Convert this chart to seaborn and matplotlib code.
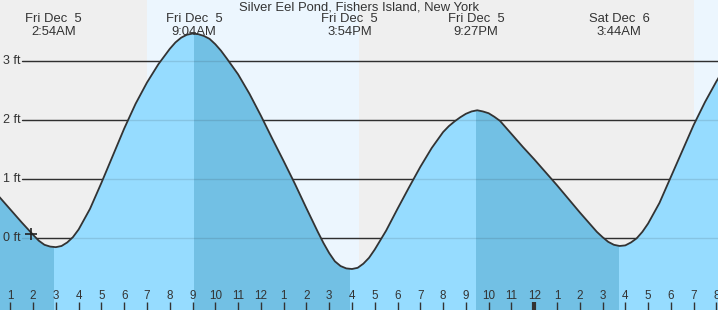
import numpy as np
import matplotlib
matplotlib.use('Agg')
import matplotlib.pyplot as plt
from matplotlib.patches import Rectangle
import seaborn as sns

# ---- data (hours after midnight Fri Dec 5, feet) ----
hours = [0.5, 1.0, 1.5, 2.0, 2.25, 2.5, 2.75, 3.0, 3.25, 3.5, 3.75, 4.0,
         4.5, 5.0, 5.5, 6.0, 6.5, 7.0, 7.5, 7.75, 8.0, 8.25, 8.5, 8.75,
         9.0, 9.25, 9.5, 9.75, 10.0, 10.25, 10.5, 11.0, 11.5, 12.0, 12.5,
         13.0, 13.5, 14.0, 14.5, 14.75, 15.0, 15.25, 15.5, 15.75, 16.0,
         16.25, 16.5, 16.75, 17.0, 17.25, 17.5, 18.0, 18.5, 19.0, 19.5,
         20.0, 20.25, 20.5, 20.75, 21.0, 21.25, 21.5, 21.75, 22.0, 22.25,
         22.5, 22.75, 23.0, 23.5, 24.0, 24.5, 25.0, 25.5, 26.0, 26.5,
         26.75, 27.0, 27.25, 27.5, 27.75, 28.0, 28.25, 28.5, 28.75, 29.0,
         29.5, 30.0, 30.5, 31.0, 31.5, 32.0, 32.5]
heights = [0.71, 0.49, 0.27, 0.06, -0.04, -0.11, -0.14, -0.15, -0.13, -0.07,
           0.02, 0.15, 0.50, 0.94, 1.40, 1.86, 2.28, 2.64, 2.95, 3.08, 3.21,
           3.32, 3.40, 3.45, 3.47, 3.46, 3.43, 3.38, 3.29, 3.18, 3.05, 2.78,
           2.45, 2.08, 1.69, 1.31, 0.92, 0.51, 0.11, -0.08, -0.25, -0.39,
           -0.47, -0.51, -0.52, -0.50, -0.43, -0.33, -0.19, -0.03, 0.13, 0.50,
           0.86, 1.21, 1.53, 1.80, 1.90, 1.98, 2.05, 2.11, 2.15, 2.17, 2.15,
           2.12, 2.06, 1.99, 1.88, 1.77, 1.55, 1.34, 1.12, 0.90, 0.67, 0.44,
           0.22, 0.11, 0.02, -0.06, -0.11, -0.13, -0.12, -0.07, 0.00, 0.11,
           0.25, 0.60, 1.04, 1.48, 1.92, 2.31, 2.66, 2.98]

extreme_hours = [2.9, 9.0667, 15.9, 21.45, 27.7333]
extreme_days = ['Fri Dec  5', 'Fri Dec  5', 'Fri Dec  5', 'Fri Dec  5', 'Sat Dec  6']
extreme_times = ['2:54AM', '9:04AM', '3:54PM', '9:27PM', '3:44AM']

# falling tide stretches (darker fill)
falling = [(0.0, 2.9), (9.0667, 15.9), (21.45, 27.7333)]
# daylight stretches
daylight = [(7.0, 16.31), (31.0, 33.0)]

ft_levels = [0, 1, 2, 3]
hour_ticks = list(range(1, 33))
hour_labels = [str((h - 1) % 12 + 1) for h in hour_ticks]

now_hour, now_height = 1.9, 0.08
title = 'Silver Eel Pond, Fishers Island, New York'

# ---- style ----
sns.set_theme(style='white')
plt.rcParams['font.family'] = ['Liberation Sans', 'DejaVu Sans']
txt = '#333333'
night = '#efefef'
day = '#ecf6fe'
light = '#96dcff'
dark = '#72c0e4'

fig = plt.figure(figsize=(7.18, 3.10), dpi=100)
ax = fig.add_axes([0, 0, 1, 1])
ax.set_facecolor(night)
for s in ax.spines.values():
  s.set_visible(False)
ax.set_xticks([])
ax.set_yticks([])
ax.set_xlim(0.548, 32.07)
ax.set_ylim(-1.215, 4.039)

for t0, t1 in daylight:
  ax.axvspan(t0, t1, color=day, lw=0, zorder=0)

# grid lines behind the water
for lv in ft_levels:
  ax.axhline(lv, xmin=22 / 718, xmax=1, color=txt, lw=1, zorder=1)
  ax.text(3 / 718, lv, f'{lv} ft', transform=ax.get_yaxis_transform(),
          ha='left', va='center', fontsize=9, color=txt, zorder=6)

ax.fill_between(hours, heights, -2, color=light, lw=0, zorder=2)
for t0, t1 in falling:
  poly = ax.fill_between(hours, heights, -2, color=dark, lw=0, zorder=2.1)
  poly.set_clip_path(Rectangle((t0, -2), t1 - t0, 10, transform=ax.transData))

# faint grid lines showing through the water
for lv in ft_levels:
  ax.axhline(lv, xmin=22 / 718, xmax=1, color='k', alpha=0.12, lw=1, zorder=3)

sns.lineplot(x=hours, y=heights, ax=ax, color=txt, lw=1.3, zorder=4,
             legend=False, solid_joinstyle='round')
ax.plot([now_hour], [now_height], marker='+', ms=9, mew=1.2, color='#222222', zorder=5)

xt = ax.get_xaxis_transform()
for h, lab in zip(hour_ticks, hour_labels):
  ax.plot([h, h], [0, 8 / 310], transform=xt, color=txt,
          lw=3 if h == 24 else 1, solid_capstyle='butt', zorder=5)
  ax.text(h, 1 - 296 / 310, lab, transform=xt, ha='center', va='center',
          fontsize=8.4, color=txt, zorder=6)

for h, d, t in zip(extreme_hours, extreme_days, extreme_times):
  ax.text(h, 1 - 19.5 / 310, d, transform=xt, ha='center', va='center',
          fontsize=9.4, color=txt, zorder=6)
  ax.text(h, 1 - 32 / 310, t, transform=xt, ha='center', va='center',
          fontsize=9.4, color=txt, zorder=6)

ax.text(0.5, 1 - 7.5 / 310, title, transform=ax.transAxes, ha='center',
        va='center', fontsize=9.4, color=txt, zorder=6)

ax.set_xlabel('')
ax.set_ylabel('')
fig.savefig('out.png', dpi=100)
